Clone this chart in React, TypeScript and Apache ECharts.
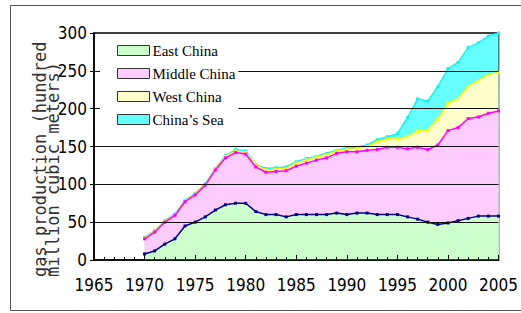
import React, { useEffect, useRef } from "react";
import * as echarts from "echarts";

const years = [
  1970, 1971, 1972, 1973, 1974, 1975, 1976, 1977, 1978, 1979,
  1980, 1981, 1982, 1983, 1984, 1985, 1986, 1987, 1988, 1989,
  1990, 1991, 1992, 1993, 1994, 1995, 1996, 1997, 1998, 1999,
  2000, 2001, 2002, 2003, 2004, 2005,
];
const eastChina = [
  8, 12, 21, 28, 45, 50, 57, 66, 73, 75,
  75, 64, 60, 60, 57, 60, 60, 60, 60, 62,
  60, 62, 62, 60, 60, 60, 57, 54, 50, 47,
  49, 52, 55, 58, 58, 58,
];
const middleChina = [
  20, 25, 29, 31, 32, 36, 42, 53, 62, 67,
  65, 59, 56, 57, 61, 64, 68, 72, 75, 79,
  83, 81, 83, 86, 89, 89, 90, 95, 96, 105,
  122, 123, 132, 131, 136, 139,
];
const westChina = [
  1, 1, 1, 1, 1, 1, 1, 1, 2, 2,
  2, 2, 3, 3, 3, 4, 4, 4, 4, 3,
  3, 4, 5, 10, 11, 11, 16, 21, 25, 34,
  36, 38, 42, 48, 51, 51,
];
const chinasSea = [
  1, 1, 1, 1, 1, 1, 1, 1, 1, 2,
  2, 1, 2, 2, 2, 2, 2, 1, 2, 1,
  2, 2, 2, 3, 3, 7, 25, 43, 39, 43,
  46, 48, 52, 50, 51, 52,
];
const seriesNames = ["East China", "Middle China", "West China", "China\u2019s Sea"];
const areaColors = ["#ccffcc", "#ffccff", "#ffffcc", "#66ffff"];
const lineColors = ["#000080", "#ff00ff", "#ffff00", "#22eeee"];
const gridValues = [50, 100, 150, 200, 250];

const labelFont = "DejaVu Sans Condensed, Liberation Sans Narrow, Liberation Sans, sans-serif";

export default function App() {
  const ref = useRef<HTMLDivElement>(null);

  useEffect(() => {
    if (!ref.current) return;
    const chart = echarts.init(ref.current, undefined, { renderer: "svg" });
    const all = [eastChina, middleChina, westChina, chinasSea];
    // cumulative totals (stacked manually so that each layer fills down to zero)
    const cum: number[][] = [];
    all.forEach((vals, i) => {
      cum.push(vals.map((v, k) => v + (i > 0 ? cum[i - 1][k] : 0)));
    });
    const series: any[] = cum.map((vals, i) => ({
      name: seriesNames[i],
      type: "line",
      data: years.map((y, k) => [y, vals[k]]),
      symbol: "rect",
      symbolSize: 3,
      showSymbol: true,
      z: 8 - i,
      lineStyle: { color: lineColors[i], width: 1.5 },
      itemStyle: { color: lineColors[i] },
      areaStyle: { color: areaColors[i], opacity: 1, origin: "start" },
    }));
    series.push({
      name: "grid",
      type: "line",
      data: [],
      z: 12,
      markLine: {
        silent: true,
        z: 12,
        symbol: "none",
        label: { show: false },
        lineStyle: { color: "#111", width: 1, type: "solid" },
        data: gridValues.map((v) => ({ yAxis: v })),
      },
    });

    chart.setOption({
      animation: false,
      grid: {
        left: 94,
        right: 15,
        top: 33,
        bottom: 53,
        show: true,
        borderColor: "#000",
        borderWidth: 1.5,
        backgroundColor: "transparent",
      },
      legend: {
        orient: "vertical",
        left: 100,
        top: 34,
        z: 20,
        backgroundColor: "#fff",
        padding: [9, 3, 8, 17],
        itemWidth: 32,
        itemHeight: 10,
        itemGap: 8,
        icon: "rect",
        data: seriesNames.map((n, i) => ({
          name: n,
          itemStyle: { color: areaColors[i], borderColor: "#333", borderWidth: 1 },
        })),
        textStyle: {
          fontFamily: "Liberation Serif, serif",
          fontSize: 15,
          color: "#000",
          lineHeight: 14,
          padding: [0, 0, 0, -2],
        },
      },
      xAxis: {
        type: "value",
        min: 1965,
        max: 2005,
        interval: 5,
        z: 15,
        axisLine: { show: true, lineStyle: { color: "#000", width: 1.5 } },
        axisTick: { show: true, inside: true, length: 5, lineStyle: { color: "#000" } },
        minorTick: { show: true, splitNumber: 5, length: 3, lineStyle: { color: "#000" } },
        splitLine: { show: false },
        axisLabel: {
          margin: 16,
          color: "#000",
          fontSize: 17,
          fontFamily: labelFont,
          formatter: (v: number) => String(v),
        },
      },
      yAxis: {
        type: "value",
        min: 0,
        max: 300,
        interval: 50,
        z: 15,
        axisLine: { show: true, lineStyle: { color: "#000", width: 1.5 } },
        axisTick: { show: true, length: 4, lineStyle: { color: "#000" } },
        splitLine: { show: false },
        axisLabel: {
          margin: 7,
          color: "#000",
          fontSize: 17,
          fontFamily: labelFont,
        },
      },
      graphic: [
        {
          type: "rect",
          silent: true,
          shape: { x: 10.5, y: 5.5, width: 530, height: 305 },
          style: { fill: "none", stroke: "#555", lineWidth: 1 },
        },
        {
          type: "text",
          x: 40,
          y: 277,
          rotation: Math.PI / 2,
          style: {
            text: "gas production (hundred",
            fontFamily: "DejaVu Sans Mono, monospace",
            fontSize: 17,
            fill: "#333",
            textAlign: "left",
            textVerticalAlign: "middle",
          },
        },
        {
          type: "text",
          x: 53,
          y: 277,
          rotation: Math.PI / 2,
          style: {
            text: "million cubic meters)",
            fontFamily: "DejaVu Sans Mono, monospace",
            fontSize: 17,
            fill: "#333",
            textAlign: "left",
            textVerticalAlign: "middle",
          },
        },
      ],
      series,
    });
    return () => chart.dispose();
  }, []);

  return (
    <div
      ref={ref}
      style={{ position: "absolute", left: 0, top: 0, width: 521, height: 313, background: "#fff" }}
    />
  );
}
